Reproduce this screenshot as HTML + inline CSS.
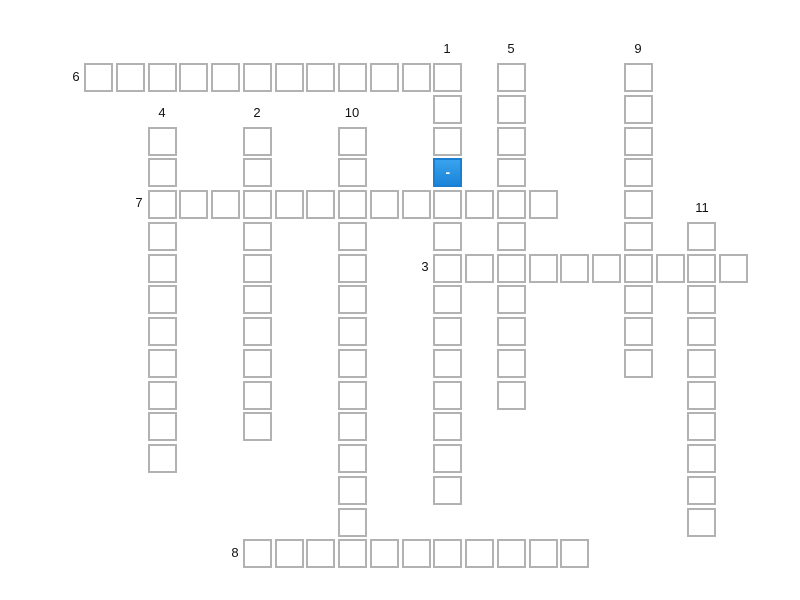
<!DOCTYPE html>
<html><head><meta charset="utf-8"><style>
html,body{margin:0;padding:0;background:#fff;width:800px;height:600px;overflow:hidden;position:relative;font-family:"Liberation Sans",sans-serif}
.c{position:absolute;width:25px;height:25px;border:2px solid #b2b2b2;background:#fff;box-sizing:content-box}
.h{background:linear-gradient(#3aa3ee,#1a84d8);border-color:#1a7fd0;color:#fff;text-align:center;line-height:24px;font-weight:bold;font-size:14px}
.n{position:absolute;font-size:13px;color:#111;width:30px;text-align:center;line-height:14px}
</style></head><body>
<div id="g"></div>
<div class="n" style="left:432px;top:42px">1</div>
<div class="n" style="left:496px;top:42px">5</div>
<div class="n" style="left:623px;top:42px">9</div>
<div class="n" style="left:147px;top:106px">4</div>
<div class="n" style="left:242px;top:106px">2</div>
<div class="n" style="left:337px;top:106px">10</div>
<div class="n" style="left:687px;top:201px">11</div>
<div class="n" style="left:61px;top:70px">6</div>
<div class="n" style="left:124px;top:196px">7</div>
<div class="n" style="left:410px;top:260px">3</div>
<div class="n" style="left:220px;top:546px">8</div>
<script>
var g=document.getElementById('g'),seen={};
function cell(c,r,hl){var k=c+'_'+r;if(seen[k])return;seen[k]=1;var d=document.createElement('div');d.className='c'+(hl?' h':'');d.style.left=(84+31.75*c).toFixed(1)+'px';d.style.top=(63+31.75*r).toFixed(1)+'px';if(hl)d.textContent='-';g.appendChild(d);}
cell(11,3,true);
function H(r,c0,c1){for(var c=c0;c<=c1;c++)cell(c,r);}
function V(c,r0,r1){for(var r=r0;r<=r1;r++)cell(c,r);}
H(0,0,11);H(4,2,14);H(6,11,20);H(15,5,15);
V(11,0,13);V(13,0,10);V(17,0,9);V(2,2,12);V(5,2,11);V(8,2,14);V(19,5,14);
</script>
</body></html>
